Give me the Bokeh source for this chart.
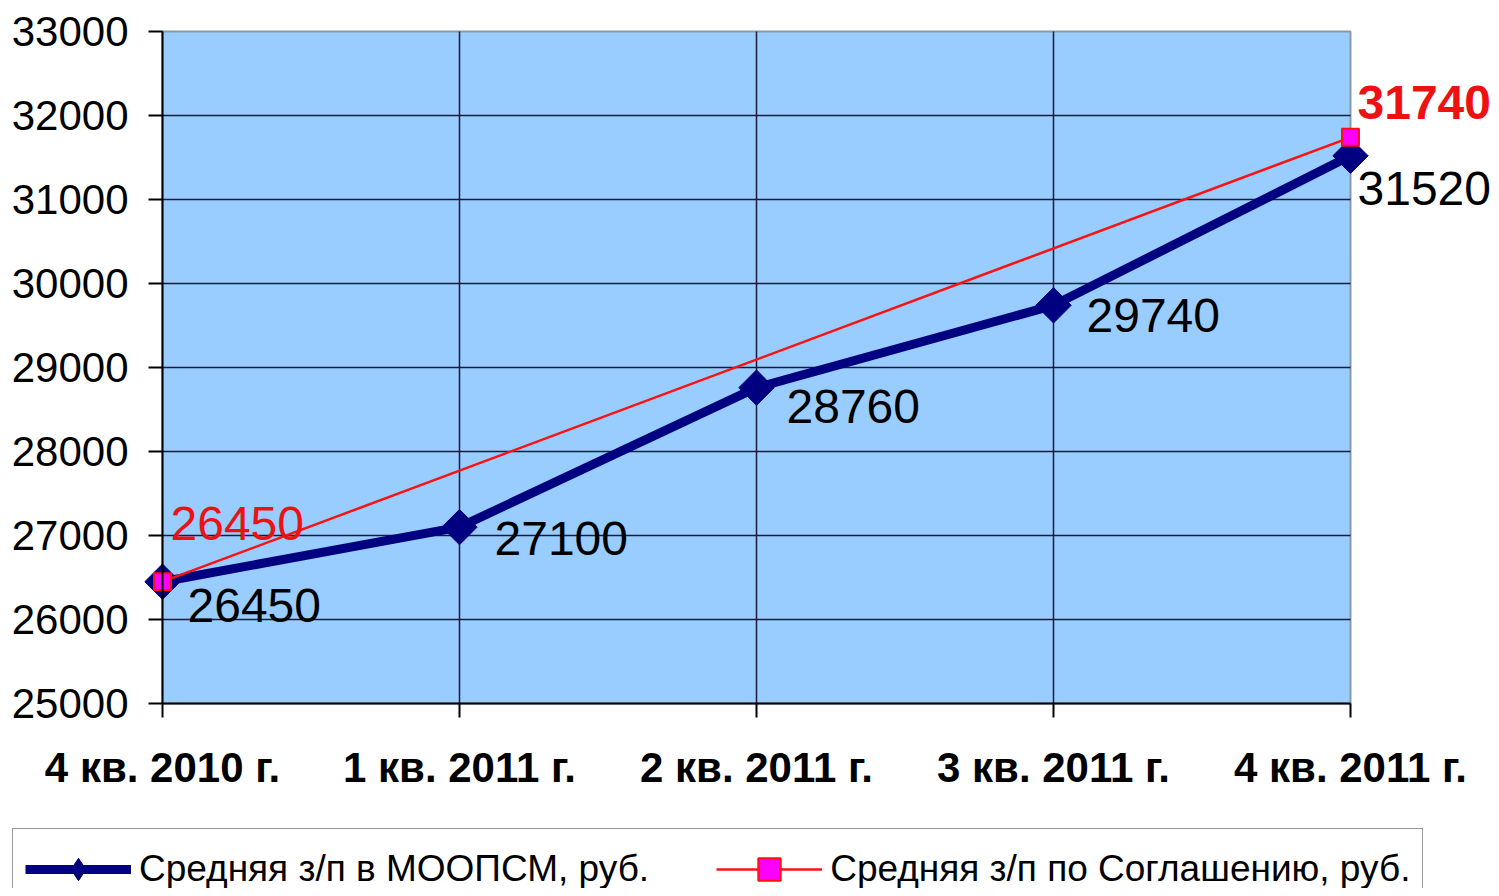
import math
from bokeh.plotting import figure
from bokeh.models import Range1d, FixedTicker, Legend, LegendItem, ColumnDataSource
from bokeh.core.properties import value
from bokeh.embed import file_html
from bokeh.resources import INLINE

# ---- data ----
categories = ["4 кв. 2010 г.", "1 кв. 2011 г.", "2 кв. 2011 г.", "3 кв. 2011 г.", "4 кв. 2011 г."]
moopsm_values = [26450, 27100, 28760, 29740, 31520]
agreement_idx = [0, 4]
agreement_values = [26450, 31740]
series_names = ["Средняя з/п в МООПСМ, руб.", "Средняя з/п по Соглашению, руб."]
y_ticks = [25000, 26000, 27000, 28000, 29000, 30000, 31000, 32000, 33000]

# label offsets (styling, px)
blue_dx = [25, 35, 30, 33, 7]
blue_dy = [24, 11, 19, 10, 33]
red_dx = [8, 7]
red_dy = [-58, -35]

FONT = "Liberation Sans"
W, H = 1491, 888
# pixel layout of the plot area inside the canvas
PX_L, PX_R, PX_T, PX_B = 162, 1350, 31, 703
n = len(categories)
ppx = (PX_R - PX_L) / (n - 1)
ppy = (PX_B - PX_T) / (y_ticks[-1] - y_ticks[0])
x_range = Range1d(0 - PX_L / ppx, (n - 1) + (W - PX_R) / ppx)
y_range = Range1d(y_ticks[0] - (H - PX_B) / ppy, y_ticks[-1] + PX_T / ppy)

p = figure(width=W, height=H, output_backend="svg", toolbar_location=None,
           x_range=x_range, y_range=y_range,
           min_border=0, min_border_left=0, min_border_right=0, min_border_top=0, min_border_bottom=0)
p.background_fill_color = "white"
p.border_fill_color = "white"
p.outline_line_color = None
p.grid.visible = False

# plot area (blue)
p.quad(left=[0], right=[n - 1], bottom=[y_ticks[0]], top=[y_ticks[-1]],
       fill_color="#99CCFF", line_color="#8898A8", line_width=2, level="image")
# grid lines, restricted to the plot area
p.segment(x0=[0] * (len(y_ticks) - 2), x1=[n - 1] * (len(y_ticks) - 2),
          y0=y_ticks[1:-1], y1=y_ticks[1:-1], line_color="#1a1a3a", line_width=1.5, level="underlay")
p.segment(x0=list(range(1, n - 1)), x1=list(range(1, n - 1)),
          y0=[y_ticks[0]] * (n - 2), y1=[y_ticks[-1]] * (n - 2),
          line_color="#1a1a3a", line_width=1.5, level="underlay")

p.xaxis.ticker = FixedTicker(ticks=list(range(n)))
p.xaxis.major_label_overrides = {i: c for i, c in enumerate(categories)}
p.xaxis.bounds = (0, n - 1)
p.xaxis.fixed_location = y_ticks[0]
p.yaxis.ticker = FixedTicker(ticks=y_ticks)
p.yaxis.formatter.use_scientific = False
p.yaxis.bounds = (y_ticks[0], y_ticks[-1])
p.yaxis.fixed_location = 0

for ax in (p.xaxis[0], p.yaxis[0]):
    ax.axis_line_color = "black"
    ax.axis_line_width = 2
    ax.major_tick_line_color = "black"
    ax.major_tick_line_width = 2
    ax.major_tick_in = 0
    ax.major_tick_out = 14
    ax.minor_tick_line_color = None
    ax.major_label_text_font = FONT
    ax.major_label_text_color = "black"

p.xaxis.major_label_text_font_size = "42px"
p.xaxis.major_label_text_font_style = "bold"
p.xaxis.major_label_standoff = 26
p.yaxis.major_label_text_font_size = "42px"
p.yaxis.major_label_standoff = 20

xs = list(range(n))
src_b = ColumnDataSource(dict(x=xs, y=moopsm_values, t=[str(v) for v in moopsm_values], dx=blue_dx, dy=blue_dy))
src_r = ColumnDataSource(dict(x=agreement_idx, y=agreement_values))

bl = p.line("x", "y", source=src_b, line_color="#000080", line_width=9)
# diamond glyph (hidden under the big markers) used for the legend swatch
bm_leg = p.scatter("x", "y", source=src_b, marker="diamond", size=27,
                   fill_color="#000080", line_color="#000080")
bm = p.scatter("x", "y", source=src_b, marker="square", angle=math.pi / 4, size=25,
               fill_color="#000080", line_color="#000080")
rl = p.line("x", "y", source=src_r, line_color="#FF1010", line_width=2.5)
rm = p.scatter("x", "y", source=src_r, marker="square", size=17, fill_color="#FF00FF",
               line_color="#FF1010", line_width=2)

p.text("x", "y", text="t", source=src_b, x_offset="dx", y_offset="dy", text_font=value(FONT),
       text_font_size="48px", text_color="black", text_baseline="middle", text_align="left")
p.text(x=[agreement_idx[0]], y=[agreement_values[0]], text=[str(agreement_values[0])],
       x_offset=red_dx[0], y_offset=red_dy[0], text_font=value(FONT), text_font_size="48px",
       text_color="#EE1111", text_baseline="middle", text_align="left")
p.text(x=[agreement_idx[1]], y=[agreement_values[1]], text=[str(agreement_values[1])],
       x_offset=red_dx[1], y_offset=red_dy[1], text_font=value(FONT), text_font_size="48px",
       text_font_style="bold", text_color="#EE1111", text_baseline="middle", text_align="left")

legend = Legend(items=[LegendItem(label=series_names[0], renderers=[bl, bm_leg]),
                       LegendItem(label=series_names[1], renderers=[rl, rm])],
                orientation="horizontal", location=(12, -22))
legend.label_text_font = FONT
legend.label_text_font_size = "37px"
legend.label_text_color = "black"
legend.glyph_width = 106
legend.glyph_height = 56
legend.label_height = 34
legend.label_standoff = 8
legend.spacing = 67
legend.padding = 12
legend.margin = 0
legend.border_line_color = "#333333"
legend.border_line_width = 1.5
legend.background_fill_color = "white"
legend.background_fill_alpha = 1
p.add_layout(legend, "center")

open("out.html", "w").write(file_html(p, INLINE))
